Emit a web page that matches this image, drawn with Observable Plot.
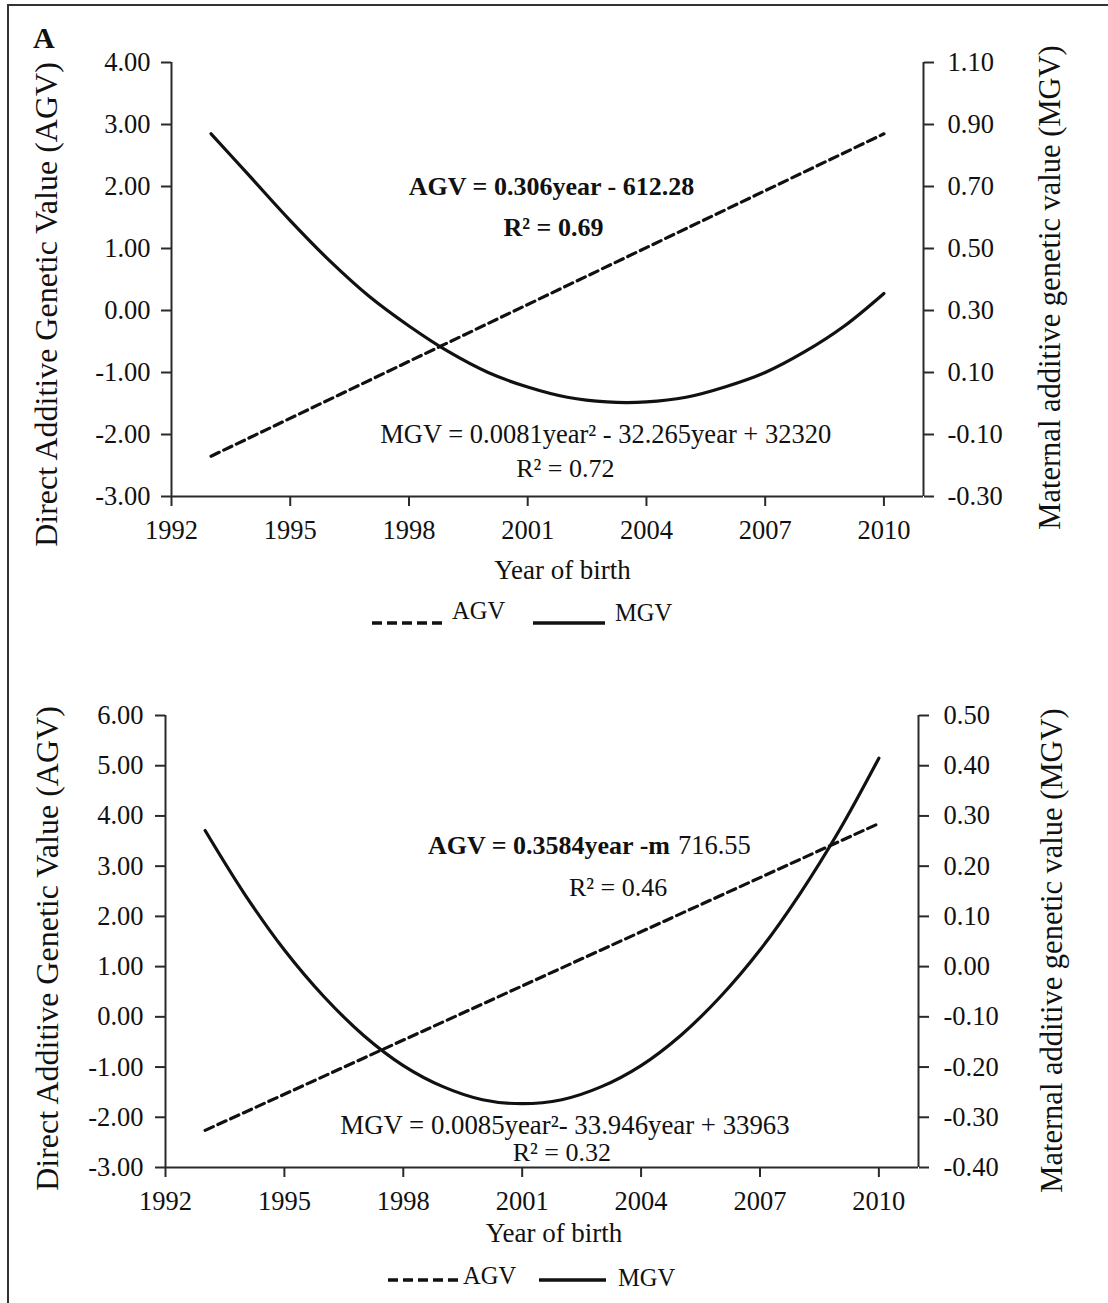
<!DOCTYPE html>
<html><head><meta charset="utf-8">
<script src="https://cdn.jsdelivr.net/npm/d3@7"></script>
<script src="https://cdn.jsdelivr.net/npm/@observablehq/plot@0.6"></script>
<style>
html,body{margin:0;padding:0;background:#fff;}
#page{position:relative;width:1108px;height:1303px;overflow:hidden;background:#fff;font-family:"Liberation Serif","Times New Roman",serif;color:#111;}
#border{position:absolute;left:7px;top:4px;width:1200px;height:1400px;border-top:2px solid #333;border-left:2px solid #333;}
.layer{position:absolute;left:0;}
.layer svg{overflow:visible;display:block}
#labelA{position:absolute;left:33px;top:23px;font-weight:bold;font-size:30px;line-height:30px;}
#legend{position:absolute;left:0;top:0;}
</style></head><body>
<div id="page"><div id="border"></div><div id="labelA">A</div></div>
<script>
// ---------- data ----------
const years = [1993,1994,1995,1996,1997,1998,1999,2000,2001,2002,2003,2004,2005,2006,2007,2008,2009,2010];
const xTicks = [1992,1995,1998,2001,2004,2007,2010];
const xDomain = [1992, 2011];

// Panel A
const agvTicksA = [-3,-2,-1,0,1,2,3,4];
const mgvTicksA = [-0.3,-0.1,0.1,0.3,0.5,0.7,0.9,1.1];
const agvYearsA = [1993, 2010];
const agvA = [-2.35, 2.85];
const mgvA = [0.87,0.73,0.59,0.46,0.345,0.25,0.167,0.10,0.053,0.02,0.005,0.005,0.02,0.054,0.10,0.167,0.25,0.355];

// Panel B
const agvTicksB = [-3,-2,-1,0,1,2,3,4,5,6];
const mgvTicksB = [-0.4,-0.3,-0.2,-0.1,0,0.1,0.2,0.3,0.4,0.5];
const agvYearsB = [1993, 2010];
const agvB = [-2.26, 3.85];
const mgvB = [0.271,0.144,0.033,-0.06,-0.137,-0.197,-0.239,-0.265,-0.273,-0.265,-0.239,-0.197,-0.137,-0.06,0.033,0.144,0.271,0.415];

const leftTitle = "Direct Additive Genetic Value (AGV)";
const rightTitle = "Maternal additive genetic value (MGV)";
const xTitle = "Year of birth";

const FONT = "Liberation Serif, Times New Roman, serif";
const INK = "#111";
const AXIS = "#2a2a2a";

function layer(top, svg){
  const d = document.createElement("div");
  d.className = "layer"; d.style.top = top + "px";
  d.appendChild(svg);
  document.getElementById("page").appendChild(d);
}

function panel(cfg){
  const common = {
    width: 1108, height: cfg.height,
    marginLeft: cfg.left, marginRight: 1108 - cfg.right,
    marginTop: cfg.top, marginBottom: cfg.height - cfg.bottom,
    style: {background: "transparent", overflow: "visible", fontFamily: FONT, color: INK}
  };
  const agvData = cfg.agvYears.map((y,i)=>({year:y, v:cfg.agv[i]}));
  const mgvData = years.map((y,i)=>({year:y, v:cfg.mgv[i]}));
  const left = Plot.plot({
    ...common,
    x: {domain: xDomain},
    y: {domain: [cfg.agvTicks[0], cfg.agvTicks[cfg.agvTicks.length-1]]},
    marks: [
      Plot.ruleX([xDomain[0]], {stroke: AXIS, strokeWidth: 2}),
      Plot.ruleY([cfg.agvTicks[0]], {stroke: AXIS, strokeWidth: 2}),
      Plot.axisY({ticks: cfg.agvTicks, tickSize: 10, tickPadding: cfg.lpad, strokeWidth: 2, stroke: AXIS,
        tickFormat: d=>d.toFixed(2), fontSize: 26.5, fill: INK, label: null, letterSpacing: 2.5}),
      Plot.axisX({ticks: xTicks, tickSize: 10, tickPadding: 14, strokeWidth: 2, stroke: AXIS,
        tickFormat: d=>String(d), fontSize: 26.5, fill: INK, label: null, letterSpacing: 1.5}),
      Plot.line(agvData, {x:"year", y:"v", stroke:"#111", strokeWidth:3.2, strokeDasharray:"9,5"}),
      Plot.text([leftTitle], {frameAnchor:"left", textAnchor:"middle", lineAnchor:"middle", rotate:-90, dx: cfg.ltX - cfg.left, dy: cfg.ltDy, fontSize: 32, fill: INK}),
      Plot.text([xTitle], {frameAnchor:"bottom", textAnchor:"middle", lineAnchor:"middle", dx: cfg.xtDx, dy: cfg.xtDy, fontSize: 27, fill: INK}),
      ...cfg.notes.map(n => Plot.text([n.t], {x: n.x, y: n.y, textAnchor: n.anchor || "middle", lineAnchor:"middle", fontSize: n.size, fontWeight: n.bold ? "bold" : "normal", fill: INK}))
    ]
  });
  const right = Plot.plot({
    ...common,
    x: {domain: xDomain, axis: null},
    y: {domain: [cfg.mgvTicks[0], cfg.mgvTicks[cfg.mgvTicks.length-1]]},
    marks: [
      Plot.ruleX([xDomain[1]], {stroke: AXIS, strokeWidth: 2}),
      Plot.axisY({anchor:"right", ticks: cfg.mgvTicks, tickSize: 10, tickPadding: cfg.rpad, strokeWidth: 2, stroke: AXIS,
        tickFormat: d=>d.toFixed(2), fontSize: 26.5, fill: INK, label: null, letterSpacing: 2.5}),
      Plot.line(mgvData, {x:"year", y:"v", stroke:"#111", strokeWidth:3.2, curve:"catmull-rom"}),
      Plot.text([rightTitle], {frameAnchor:"right", textAnchor:"middle", lineAnchor:"middle", rotate:-90, dx: cfg.rtX - cfg.right, dy: cfg.rtDy, fontSize: 30.5, fill: INK})
    ]
  });
  layer(cfg.y0, left);
  layer(cfg.y0, right);
}

panel({
  y0: 0, height: 600, left: 171, right: 923, top: 62, bottom: 496,
  agvTicks: agvTicksA, mgvTicks: mgvTicksA, agvYears: agvYearsA, agv: agvA, mgv: mgvA,
  lpad: 11, rpad: 14, ltX: 46, ltDy: 25, rtX: 1050, rtDy: 8, xtDx: 15, xtDy: 74,
  notes: [
    {t: "AGV = 0.306year - 612.28", x: 2001.6, y: 2.0, size: 26, bold: true},
    {t: "R² = 0.69", x: 2001.65, y: 1.33, size: 26, bold: true},
    {t: "MGV = 0.0081year² - 32.265year + 32320", x: 2002.97, y: -2.0, size: 26.5, bold: false},
    {t: "R² = 0.72", x: 2001.95, y: -2.55, size: 26, bold: false}
  ]
});

panel({
  y0: 650, height: 620, left: 165, right: 918, top: 65, bottom: 517,
  agvTicks: agvTicksB, mgvTicks: mgvTicksB, agvYears: agvYearsB, agv: agvB, mgv: mgvB,
  lpad: 12, rpad: 15, ltX: 47, ltDy: 7, rtX: 1052, rtDy: 9, xtDx: 12, xtDy: 66,
  notes: [
    {t: "AGV = 0.3584year -m", x: 2004.73, y: 3.41, size: 26, bold: true, anchor: "end"},
    {t: "716.55", x: 2004.93, y: 3.41, size: 26.5, bold: false, anchor: "start"},
    {t: "R² = 0.46", x: 2003.42, y: 2.575, size: 26, bold: false},
    {t: "MGV = 0.0085year²- 33.946year + 33963", x: 2002.08, y: -2.16, size: 26.8, bold: false},
    {t: "R² = 0.32", x: 2002.0, y: -2.70, size: 26, bold: false}
  ]
});

// ---------- legends ----------
const legendItems = [
  {x1:372, x2:446, y:623, dash:"10,5", label:"AGV", tx:452, ty:619},
  {x1:533, x2:605, y:623, dash:null, label:"MGV", tx:615, ty:621},
  {x1:388, x2:460, y:1280, dash:"10,5", label:"AGV", tx:463, ty:1284},
  {x1:539, x2:606, y:1280, dash:null, label:"MGV", tx:618, ty:1286}
];
const ns = "http://www.w3.org/2000/svg";
const lg = document.createElementNS(ns, "svg");
lg.setAttribute("id","legend"); lg.setAttribute("width",1108); lg.setAttribute("height",1303);
for (const it of legendItems){
  const l = document.createElementNS(ns,"line");
  l.setAttribute("x1",it.x1); l.setAttribute("x2",it.x2); l.setAttribute("y1",it.y); l.setAttribute("y2",it.y);
  l.setAttribute("stroke","#111"); l.setAttribute("stroke-width",3.5);
  if (it.dash) l.setAttribute("stroke-dasharray", it.dash);
  lg.appendChild(l);
  const t = document.createElementNS(ns,"text");
  t.setAttribute("x",it.tx); t.setAttribute("y",it.ty);
  t.setAttribute("font-family",FONT); t.setAttribute("font-size",24.5); t.setAttribute("fill",INK);
  t.textContent = it.label;
  lg.appendChild(t);
}
document.getElementById("page").appendChild(lg);
</script>
</body></html>
